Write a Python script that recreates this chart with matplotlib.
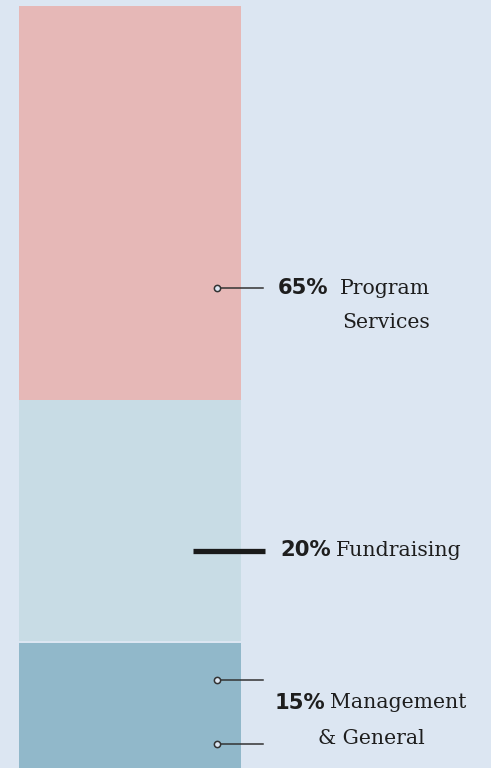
import matplotlib.pyplot as plt

# values
categories = ["Program\nServices", "Fundraising", "Management\n& General"]
shares = [65, 20, 15]
# drawn segment lengths (the picture does not draw them to scale), bottom one runs off the edge
seg_heights = [65, 39.8, 25]
seg_gaps = [0, 0, 0.33]
colors = ["#e6b8b7", "#c8dce5", "#91b8ca"]
bg = "#dce6f2"

fig = plt.figure(figsize=(4.91, 7.68), dpi=100, facecolor=bg)
ax = fig.add_axes([0, 0, 1, 1])
ax.set_facecolor(bg)

bottom = 0
for h, g, c in zip(seg_heights, seg_gaps, colors):
    bottom += g
    ax.bar(130, h, bottom=bottom, width=222, color=c, linewidth=0)
    bottom += h

ax.set_xlim(0, 491)
ax.set_ylim(125.7, -0.99)
ax.axis("off")

# overlay in pixel coords for labels
ov = fig.add_axes([0, 0, 1, 1], facecolor="none")
ov.set_xlim(0, 491)
ov.set_ylim(768, 0)
ov.axis("off")

ink = "#1e1e1e"
line_c = "#333333"
bold = dict(family="DejaVu Sans", weight="bold", fontsize=15.2, color=ink, va="center")
serif = dict(family="DejaVu Serif", fontsize=14.7, color=ink, va="center")

def leader(y):
    ov.plot([217, 263], [y, y], color=line_c, lw=1.1)
    ov.plot([217], [y], marker="o", ms=4.5, mfc=bg, mec=line_c, mew=1.1)

# 65%
leader(288)
ov.text(278, 288, f"{shares[0]}%", **bold)
ov.text(430, 288, categories[0].split("\n")[0], ha="right", **serif)
ov.text(430, 323, categories[0].split("\n")[1], ha="right", **serif)

# 20%
ov.plot([193, 265], [551, 551], color="#1a1a1a", lw=3.8, solid_capstyle="butt")
ov.text(280, 550, f"{shares[1]}%", **bold)
ov.text(336, 550, categories[1], **serif)

# 15%
leader(680)
leader(744)
ov.text(275, 703, f"{shares[2]}%", **bold)
ov.text(466, 703, categories[2].split("\n")[0], ha="right", **serif)
ov.text(371, 738, categories[2].split("\n")[1], ha="center", **serif)

fig.savefig("out.png", dpi=100, facecolor=bg)
